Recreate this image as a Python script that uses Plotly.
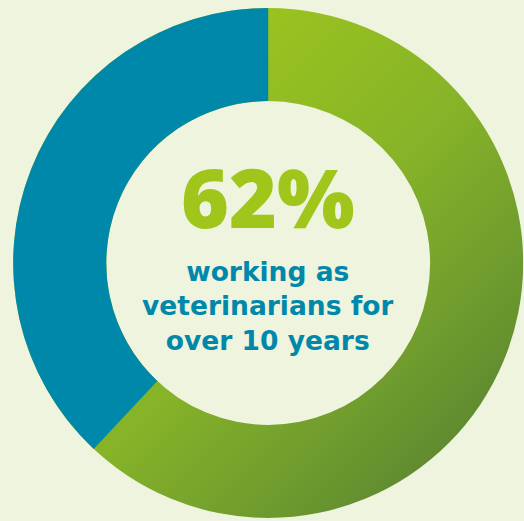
import base64
import plotly.graph_objects as go

# Share of veterinarians by length of time in practice
labels = ["Over 10 years", "10 years or less"]
values = [62, 38]

headline = "62%"
caption_lines = ["working as", "veterinarians for", "over 10 years"]

BG = "#eef4dd"
BLUE = "#0088ab"
GREEN_TEXT = "#a0c51b"
# colour stops for the green slice, running from top-left to bottom-right
green_stops = [(0.0, "#a9cf16"), (0.25, "#9ac31f"), (0.53, "#86b328"),
               (0.75, "#6d9a2e"), (0.86, "#608a30"), (1.0, "#57812f")]

W, H = 524, 521
HOLE = 0.635
# pie domain in pixels (left, right, top, bottom)
px_l, px_r, px_t, px_b = 13.2, 523.2, 8.0, 518.0
dom_x = [px_l / W, px_r / W]
dom_y = [1 - px_b / H, 1 - px_t / H]


def ring_gradient_svg(hole):
    """Ring-shaped linear-gradient texture used to fill the green slice."""
    ri = 100 * hole
    stops = "".join(
        f'<stop offset="{o}" stop-color="{c}"/>' for o, c in green_stops
    )
    path = (
        "M 0 100 A 100 100 0 1 0 200 100 A 100 100 0 1 0 0 100 Z "
        f"M {100 - ri} 100 A {ri} {ri} 0 1 0 {100 + ri} 100 "
        f"A {ri} {ri} 0 1 0 {100 - ri} 100 Z"
    )
    svg = (
        '<svg xmlns="http://www.w3.org/2000/svg" viewBox="0 0 200 200" '
        'width="200" height="200" preserveAspectRatio="none">'
        '<defs><linearGradient id="g" x1="0" y1="0" x2="1" y2="1">'
        f"{stops}</linearGradient></defs>"
        f'<path d="{path}" fill="url(#g)" fill-rule="evenodd"/></svg>'
    )
    return "data:image/svg+xml;base64," + base64.b64encode(svg.encode()).decode()


fig = go.Figure(
    go.Pie(
        labels=labels,
        values=values,
        hole=HOLE,
        sort=False,
        direction="clockwise",
        rotation=0,
        textinfo="none",
        hoverinfo="label+percent",
        marker=dict(colors=["rgba(0,0,0,0)", BLUE], line=dict(width=0)),
        domain=dict(x=dom_x, y=dom_y),
        showlegend=False,
    )
)

fig.add_layout_image(
    source=ring_gradient_svg(HOLE),
    xref="paper", yref="paper",
    x=dom_x[0], y=dom_y[1],
    sizex=dom_x[1] - dom_x[0], sizey=dom_y[1] - dom_y[0],
    xanchor="left", yanchor="top",
    sizing="stretch", layer="below",
)

cx = (px_l + px_r) / 2 / W

# big figure in the middle of the ring; box trimmed to the glyphs
fig.add_annotation(
    text=headline,
    x=cx, y=1 - 196 / H, xref="paper", yref="paper",
    xanchor="center", yanchor="middle", valign="middle",
    height=66, showarrow=False,
    font=dict(family="Open Sans", size=82, weight=800, color=GREEN_TEXT),
)
fig.add_annotation(
    text="<br>".join(caption_lines),
    x=cx, y=1 - 306 / H, xref="paper", yref="paper",
    xanchor="center", yanchor="middle", valign="middle", align="center",
    height=102, showarrow=False,
    font=dict(family="DejaVu Sans", size=26.5, weight=700, color=BLUE),
)

fig.update_layout(
    width=W, height=H, autosize=False,
    margin=dict(l=0, r=0, t=0, b=0, pad=0),
    paper_bgcolor=BG, plot_bgcolor=BG,
)

fig.write_html("out.html")
